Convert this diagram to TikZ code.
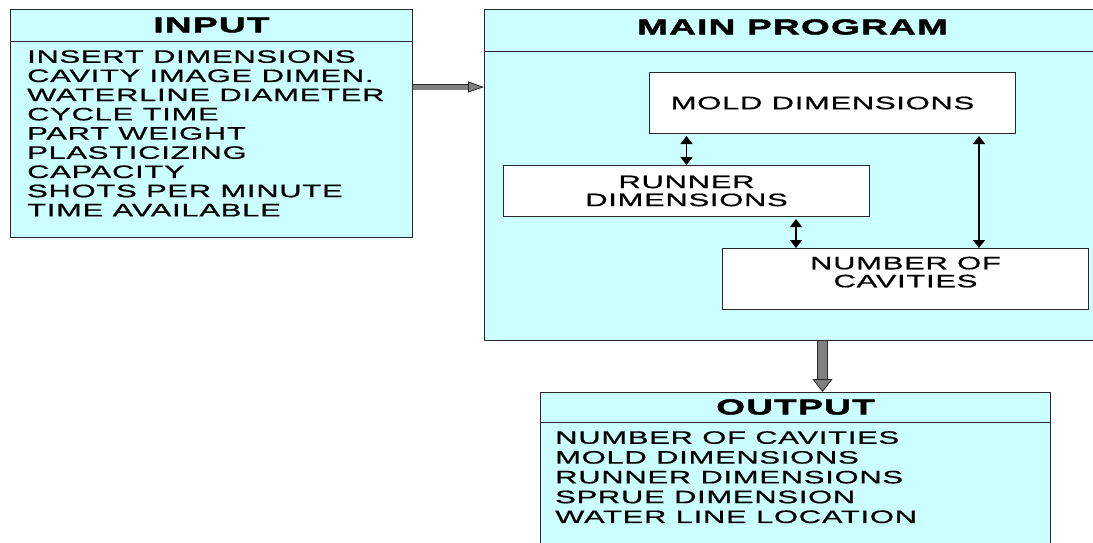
\documentclass[tikz,border=0pt]{standalone}
\usepackage{fontspec}
\newfontfamily\bodyfont[FakeStretch=1.72,LetterSpace=4,FakeBold=0.7]{Liberation Sans}
\newfontfamily\headfont[FakeStretch=1.72,LetterSpace=6,FakeBold=2.2]{Liberation Sans Bold}
\usetikzlibrary{arrows.meta,positioning,calc}
\definecolor{panelcyan}{RGB}{204,255,255}
\definecolor{edge}{RGB}{40,40,40}

\begin{document}
\begin{tikzpicture}[
    x=1pt, y=-1pt,
    panel/.style={draw=edge, fill=panelcyan, line width=1pt, anchor=north west,
                  inner sep=0pt},
    inbox/.style={draw=edge, fill=white, line width=1pt, anchor=north west,
                  minimum width=366pt, align=center, inner sep=0pt,
                  font=\bodyfont\fontsize{18}{18}\selectfont},
    heading/.style={font=\headfont\fontsize{21.5}{21.5}\selectfont, inner sep=0pt},
    listing/.style={anchor=north west, align=left, inner sep=0pt,
                    font=\bodyfont\fontsize{18}{19.2}\selectfont},
    rule/.style={draw=edge, line width=1pt},
    dbl/.style={{Triangle[width=12pt,length=8pt]}-{Triangle[width=12pt,length=8pt]},
                line width=1.5pt},
    fatright/.style={draw=gray, line width=5pt,
                     -{Triangle[width=11pt,length=16pt,line width=0.8pt,fill=gray,color=edge]},
                     preaction={draw=edge, line width=6.6pt, arrows=-, shorten >=15pt}},
    fatdown/.style={draw=gray, line width=8.5pt,
                    -{Triangle[width=20pt,length=13pt,line width=0.8pt,fill=gray,color=edge]},
                    preaction={draw=edge, line width=10.1pt, arrows=-, shorten >=12pt}},
]
\useasboundingbox (0,0) rectangle (1093,542);

% Input
\node[panel, minimum width=402pt, minimum height=228pt] (input) at (10,9) {};
\draw[rule] ([yshift=-32pt]input.north west) -- ([yshift=-32pt]input.north east);
\node[heading] (inputtitle) at ([yshift=-16pt]input.north) {INPUT};
\node[listing] (inputlist) at ([xshift=17pt,yshift=-41pt]input.north west)
    {INSERT DIMENSIONS\\ CAVITY IMAGE DIMEN.\\ WATERLINE DIAMETER\\ CYCLE TIME\\
     PART WEIGHT\\ PLASTICIZING\\ CAPACITY\\ SHOTS PER MINUTE\\ TIME AVAILABLE};

% Main program
\node[panel, minimum width=616pt, minimum height=331pt] (main) at (484,9) {};
\draw[rule] ([yshift=-42pt]main.north west) -- ([yshift=-42pt]main.north east);
\node[heading] (maintitle) at ([yshift=-18pt]main.north) {MAIN PROGRAM};
\node[inbox, minimum height=61pt] (mold) at (649,72) {MOLD DIMENSIONS\hspace*{20pt}};
\node[inbox, minimum height=51pt] (runner) at (503,165) {RUNNER\\ DIMENSIONS};
\node[inbox, minimum height=61pt] (number) at (722,248)
    {NUMBER OF\\ CAVITIES\\[-4pt]\mbox{}};

% Output
\node[panel, minimum width=510pt, minimum height=170pt] (output) at (540,392) {};
\draw[rule] ([yshift=-30pt]output.north west) -- ([yshift=-30pt]output.north east);
\node[heading] (outputtitle) at ([yshift=-15pt]output.north) {OUTPUT};
\node[listing, font=\bodyfont\fontsize{18}{19.8}\selectfont] (outputlist)
    at ([xshift=15pt,yshift=-39pt]output.north west)
    {NUMBER OF CAVITIES\\ MOLD DIMENSIONS\\ RUNNER DIMENSIONS\\
     SPRUE DIMENSION\\ WATER LINE LOCATION};

% Arrows
\coordinate (mid2) at ($(runner.south east)!.5!(number.north west)$);
\coordinate (mid3) at ([xshift=-37pt]mold.south east);
\draw[dbl, shorten <=2pt] (runner.north |- mold.south) -- (runner.north);
\draw[dbl, shorten <=2pt] (mid2 |- runner.south) -- (mid2 |- number.north);
\draw[dbl, shorten <=2pt] (mid3) -- (mid3 |- number.north);
\draw[fatright] ([yshift=-78pt]input.north east) -- ([yshift=-78pt]input.north east -| main.west);
\draw[fatdown] ([xshift=30pt]main.south) -- ([xshift=30pt]main.south |- output.north);

\end{tikzpicture}
\end{document}
